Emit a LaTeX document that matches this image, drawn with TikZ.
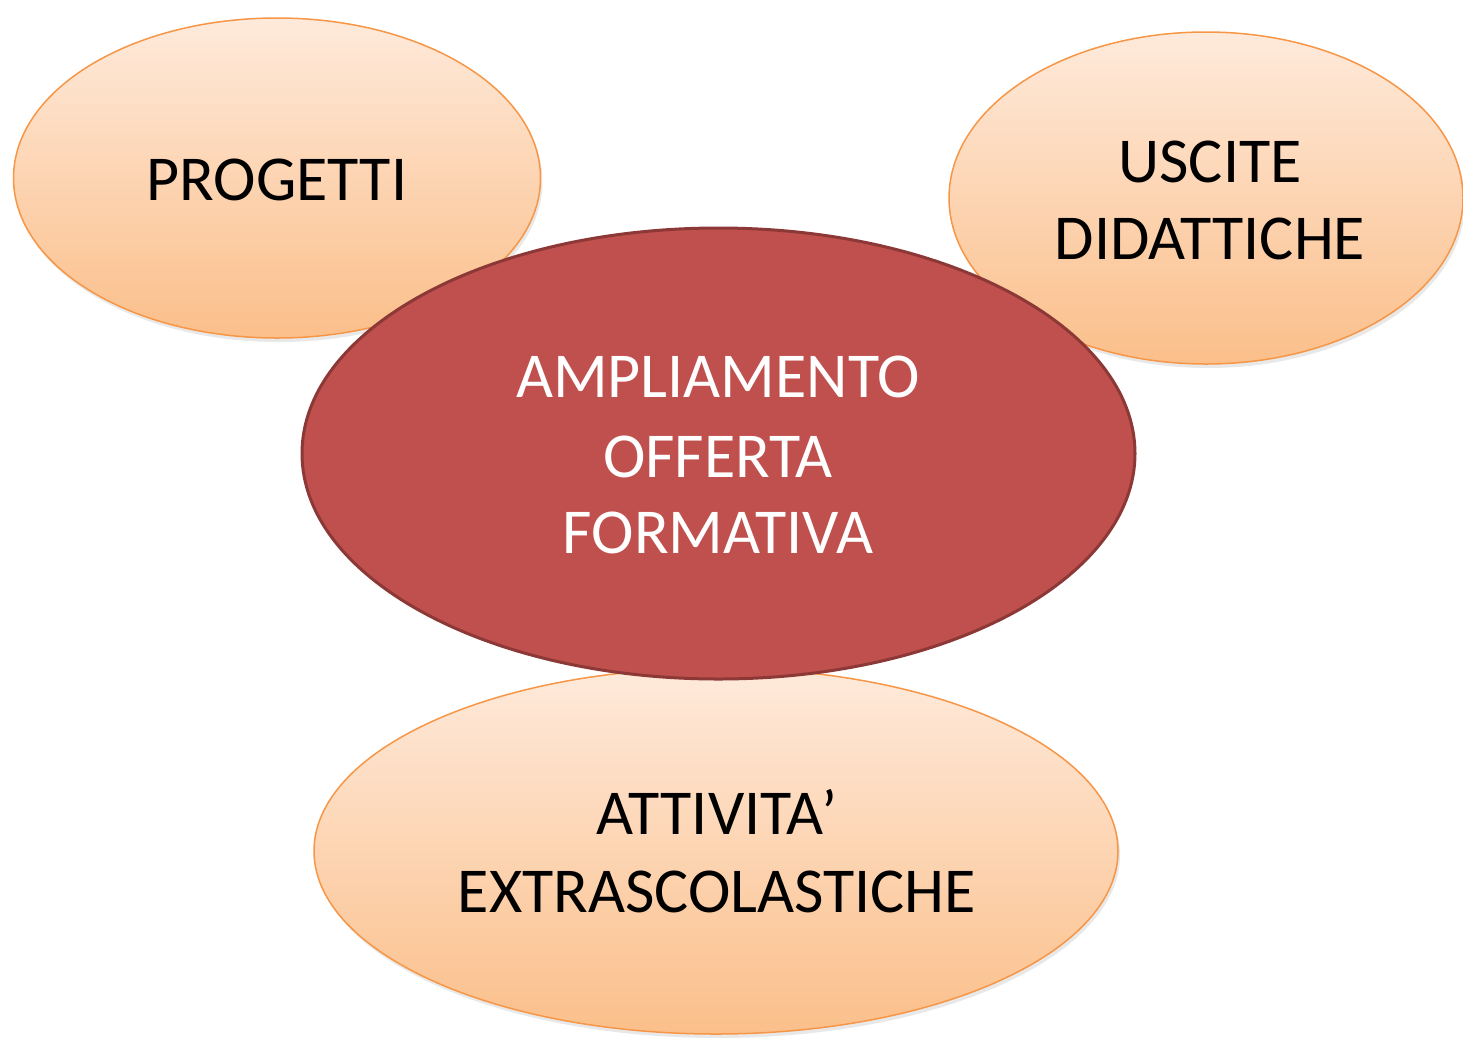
\documentclass[tikz,border=0pt]{standalone}
\usepackage{fontspec}
\setmainfont{Carlito}
\usetikzlibrary{shapes.geometric,shadows}
\definecolor{bubtop}{HTML}{FEEADB}
\definecolor{bubbot}{HTML}{FBBF8A}
\definecolor{bubline}{HTML}{F79646}
\definecolor{corefill}{HTML}{C0504D}
\definecolor{coreline}{HTML}{8C3836}
\tikzset{
  bubble/.style={ellipse, inner sep=0pt, top color=bubtop, bottom color=bubbot, draw=bubline, line width=1.5pt,
    drop shadow={opacity=0.18, shadow xshift=2pt, shadow yshift=-4pt}},
  core/.style={ellipse, inner sep=0pt, fill=corefill, draw=coreline, line width=3pt},
  lbl/.style={anchor=base, inner sep=0pt, font=\fontsize{64}{78}\selectfont, text=black},
  wlbl/.style={lbl, text=white}
}
\begin{document}
\begin{tikzpicture}[x=1pt,y=-1pt]
\useasboundingbox (0,0) rectangle (1463,1037);
\node[bubble, minimum width=527, minimum height=320] (prog) at (277,178) {};
\node[bubble, minimum width=514, minimum height=332] (usc) at (1206,198) {};
\node[bubble, minimum width=804, minimum height=366] (att) at (716,851) {};
\node[core, minimum width=833, minimum height=451] (amp) at (718.5,453.5) {};
\node[lbl] (progt) at (277,200) {PROGETTI};
\node[lbl] (usct1) at (1210,182) {USCITE};
\node[lbl] (usct2) at (1210,259) {DIDATTICHE};
\node[wlbl] (ampt1) at (718,397) {AMPLIAMENTO};
\node[wlbl] (ampt2) at (718,477) {OFFERTA};
\node[wlbl] (ampt3) at (718,553) {FORMATIVA};
\node[lbl] (attt1) at (717,834) {ATTIVITA’};
\node[lbl] (attt2) at (717,912) {EXTRASCOLASTICHE};
\end{tikzpicture}
\end{document}
